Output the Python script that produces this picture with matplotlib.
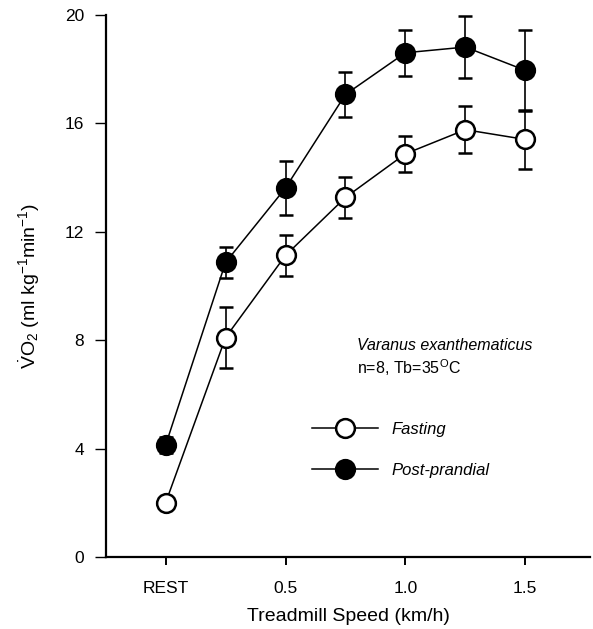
import matplotlib
matplotlib.use("Agg")
import matplotlib.pyplot as plt
from matplotlib.lines import Line2D

plt.rcParams['font.family'] = ['Liberation Sans', 'DejaVu Sans']
plt.rcParams['mathtext.fontset'] = 'custom'
plt.rcParams['mathtext.rm'] = 'Liberation Sans'
plt.rcParams['mathtext.it'] = 'Liberation Sans:italic'

# data
speeds = [0.0, 0.25, 0.5, 0.75, 1.0, 1.25, 1.5]
tick_pos = [0.0, 0.5, 1.0, 1.5]
tick_labels = ['REST', '0.5', '1.0', '1.5']

fasting = [2.0, 8.1, 11.13, 13.27, 14.88, 15.77, 15.41]
fasting_err = [0.0, 1.13, 0.75, 0.76, 0.67, 0.87, 1.1]

post = [4.13, 10.87, 13.62, 17.07, 18.61, 18.82, 17.96]
post_err = [0.3, 0.57, 1.0, 0.82, 0.85, 1.15, 1.5]

fig = plt.figure(figsize=(5.93, 6.29), dpi=100)
ax = fig.add_axes([0.179, 0.1145, 0.816, 0.8615])

ax.errorbar(speeds, fasting, yerr=fasting_err, color='black', lw=1.1,
            marker='o', ms=13.5, mfc='white', mec='black', mew=1.8,
            capsize=5, elinewidth=1.2, capthick=1.2, zorder=3)
ax.errorbar(speeds, post, yerr=post_err, color='black', lw=1.1,
            marker='o', ms=13.5, mfc='black', mec='black', mew=1.8,
            capsize=5, elinewidth=1.2, capthick=1.2, zorder=4)

ax.set_xlim(-0.248, 1.77)
ax.set_ylim(0, 20)
ax.set_yticks([0, 4, 8, 12, 16, 20])
ax.set_xticks(tick_pos)
ax.set_xticklabels(tick_labels)
ax.spines['top'].set_visible(False)
ax.spines['right'].set_visible(False)
ax.spines['left'].set_linewidth(1.6)
ax.spines['bottom'].set_linewidth(1.6)
ax.tick_params(axis='y', length=8, width=1, labelsize=12.5, pad=8)
ax.tick_params(axis='x', length=6, width=1.4, labelsize=12.5, pad=11)

ax.set_xlabel('Treadmill Speed (km/h)', fontsize=14, labelpad=9)
ax.set_ylabel(r'$\dot{\mathrm{V}}\mathrm{O}_2$ (ml kg$^{-1}$min$^{-1}$)', fontsize=14, labelpad=16)

ax.text(0.80, 7.8, 'Varanus exanthematicus', style='italic', fontsize=11.5, va='center')
ax.text(0.80, 6.97, r'n=8, Tb=35$^{\mathrm{O}}$C', fontsize=11.5, va='center')

handles = [
    Line2D([], [], color='black', lw=1.1, marker='o', ms=13.5, mfc='white', mec='black', mew=1.8),
    Line2D([], [], color='black', lw=1.1, marker='o', ms=13.5, mfc='black', mec='black', mew=1.8),
]
ax.legend(handles, ['Fasting', 'Post-prandial'], loc='center left',
          bbox_to_anchor=(0.425, 0.197), frameon=False, borderaxespad=0,
          borderpad=0, handlelength=4.0, labelspacing=1.55, handletextpad=0.8,
          prop={'style': 'italic', 'size': 12})

fig.savefig('out.png', dpi=100)
